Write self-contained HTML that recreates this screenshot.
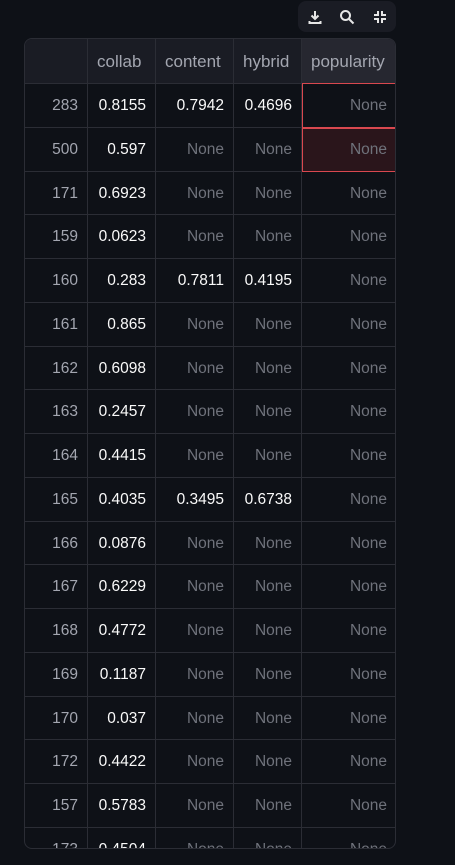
<!DOCTYPE html>
<html><head><meta charset="utf-8"><style>
html,body{margin:0;padding:0;background:#0e1117;width:455px;height:865px;overflow:hidden;font-family:"Liberation Sans",sans-serif;}
#toolbar{position:absolute;left:298px;top:1px;width:98px;height:31px;background:#1a1c24;border-radius:8px;}
.tb{position:absolute;top:7px;width:18px;height:18px;}
#wrap{position:absolute;left:24px;top:38px;width:372px;height:811px;border:1px solid #2b2d35;border-radius:8px;overflow:hidden;background:#0e1117;box-sizing:border-box;}
.cell{position:absolute;box-sizing:border-box;border-right:1px solid #2b2d35;border-bottom:1px solid #2b2d35;font-size:15.5px;line-height:43px;text-align:right;padding-right:9px;white-space:nowrap;}
.hdr{background:#1a1c24;color:#a3a6b0;text-align:left;padding-left:9px;line-height:45px;font-size:17px;}
</style></head><body>
<div id="toolbar">
<svg class="tb" style="left:8px" viewBox="0 0 18 18"><path d="M9 3v8M5.5 7.5L9 11l3.5-3.5M3.5 13v2h11v-2" stroke="#e6e6e6" stroke-width="2" fill="none"/></svg>
<svg class="tb" style="left:40px" viewBox="0 0 18 18"><circle cx="7.5" cy="7.5" r="4.5" stroke="#e6e6e6" stroke-width="2" fill="none"/><path d="M11 11l4.5 4.5" stroke="#e6e6e6" stroke-width="2"/></svg>
<svg class="tb" style="left:73px" viewBox="0 0 18 18"><path d="M7 3v4H3M11 3v4h4M7 15v-4H3M11 15v-4h4" stroke="#e6e6e6" stroke-width="2" fill="none"/></svg>
</div>
<div id="wrap"></div>
<script>
const columns=["collab","content","hybrid","popularity"];
const indexes=[283,500,171,159,160,161,162,163,164,165,166,167,168,169,170,172,157,173];
const collab=["0.8155","0.597","0.6923","0.0623","0.283","0.865","0.6098","0.2457","0.4415","0.4035","0.0876","0.6229","0.4772","0.1187","0.037","0.4422","0.5783","0.4504"];
const content=["0.7942",null,null,null,"0.7811",null,null,null,null,"0.3495",null,null,null,null,null,null,null,null];
const hybrid=["0.4696",null,null,null,"0.4195",null,null,null,null,"0.6738",null,null,null,null,null,null,null,null];
const popularity=indexes.map(()=>null);
const colX=[0,63,131,209,277,372];
const headerH=45,rowH=43.75;
const wrap=document.getElementById('wrap');
function cell(x,y,w,h,txt,cls,color,bg){
 const d=document.createElement('div');
 d.className='cell '+(cls||'');
 d.style.left=x+'px';d.style.top=y+'px';d.style.width=w+'px';d.style.height=h+'px';
 if(color)d.style.color=color;if(bg)d.style.background=bg;
 d.textContent=txt;wrap.appendChild(d);return d;
}
const h0=cell(0,0,colX[1],headerH,'','hdr');


columns.forEach((c,i)=>{
 const d=cell(colX[i+1],0,colX[i+2]-colX[i+1],headerH,c,'hdr',null,i===3?'#262730':null);
 
 
});
const series=[collab,content,hybrid,popularity];
indexes.forEach((idx,r)=>{
 const y=headerH+r*rowH;
 const ic=cell(0,y,colX[1],rowH,String(idx),'','#a3a6b0');
 
 
 series.forEach((s,i)=>{
  const v=s[r];
  const d=cell(colX[i+1],y,colX[i+2]-colX[i+1],rowH,v===null?'None':v,'',v===null?'#6f727b':'#fafafa',(i===3&&r===1)?'#2a151b':null);
  
  
 });
});
const sel=document.createElement('div');
sel.style.cssText='position:absolute;left:'+colX[4]+'px;top:'+(headerH-1)+'px;width:'+(colX[5]-colX[4])+'px;height:'+(rowH*2+1)+'px;border:1px solid #d9484f;box-sizing:border-box;';


wrap.appendChild(sel);
const mid=document.createElement('div');
mid.style.cssText='position:absolute;left:'+colX[4]+'px;top:'+(headerH+rowH-1)+'px;width:'+(colX[5]-colX[4])+'px;height:2px;background:#d9484f;';


wrap.appendChild(mid);
</script>
</body></html>
